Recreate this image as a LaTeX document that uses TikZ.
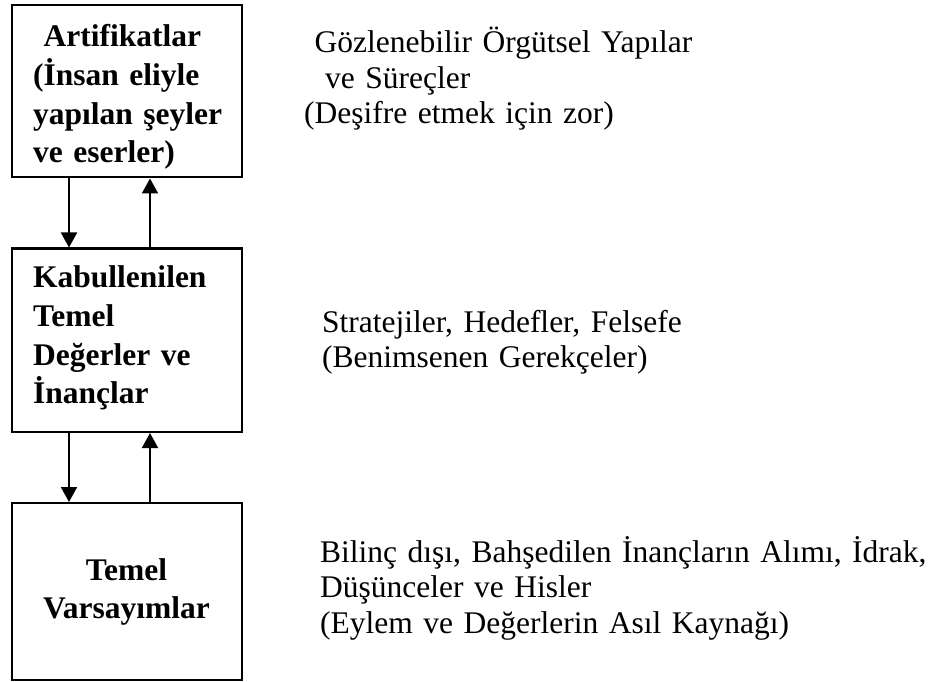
\documentclass[tikz,border=0pt]{standalone}
\usepackage{fontspec}
\setmainfont{Liberation Serif}
\usetikzlibrary{arrows.meta}

\begin{document}
\begin{tikzpicture}[x=1pt, y=-1pt,
  layer/.style={draw, line width=2pt, inner sep=0pt, minimum width=230pt},
  boxtext/.style={inner sep=0pt, anchor=base west, text width=205pt, align=left,
    font=\fontsize{31.5}{38.8}\selectfont\bfseries},
  sidetext/.style={inner sep=0pt, anchor=base west, text width=620pt, align=left,
    font=\fontsize{31.5}{35.5}\selectfont},
  link/.style={line width=2pt, -{Triangle[width=16pt, length=15pt]}}
]
  \useasboundingbox (0,0) rectangle (930,682);

  % the three layers
  \node[layer, minimum height=172.5pt] (art) at (126.5, 91.25) {};
  \node[layer, minimum height=183.5pt] (deg) at (126.5, 340.25) {};
  \node[layer, minimum height=177pt]   (var) at (126.5, 591.5) {};

  % layer titles
  \node[boxtext] (artT) at (33, 46.5)
    {\ Artifikatlar\\(İnsan eliyle\\yapılan şeyler\\ve eserler)};
  \node[boxtext] (degT) at (33, 287.5)
    {Kabullenilen\\Temel\\Değerler ve\\İnançlar};
  \node[boxtext, anchor=base, text width=228pt, align=center] (varT) at (126.5, 580)
    {Temel\\Varsayımlar};

  % descriptions on the right
  \node[sidetext] (artD) at (304, 53)
    {\ Gözlenebilir Örgütsel Yapılar\\\ \ ve Süreçler\\(Deşifre etmek için zor)};
  \node[sidetext] (degD) at (322, 332)
    {Stratejiler, Hedefler, Felsefe\\(Benimsenen Gerekçeler)};
  \node[sidetext] (varD) at (320, 562)
    {Bilinç dışı, Bahşedilen İnançların Alımı, İdrak,\\Düşünceler ve Hisler\\(Eylem ve Değerlerin Asıl Kaynağı)};

  % links between the layers
  \draw[link] ([xshift=58.5pt]art.south west) -- ([xshift=58.5pt]deg.north west);
  \draw[link] ([xshift=139.5pt]deg.north west) -- ([xshift=139.5pt]art.south west);
  \draw[link] ([xshift=58.5pt]deg.south west) -- ([xshift=58.5pt]var.north west);
  \draw[link] ([xshift=139.5pt]var.north west) -- ([xshift=139.5pt]deg.south west);
\end{tikzpicture}
\end{document}
